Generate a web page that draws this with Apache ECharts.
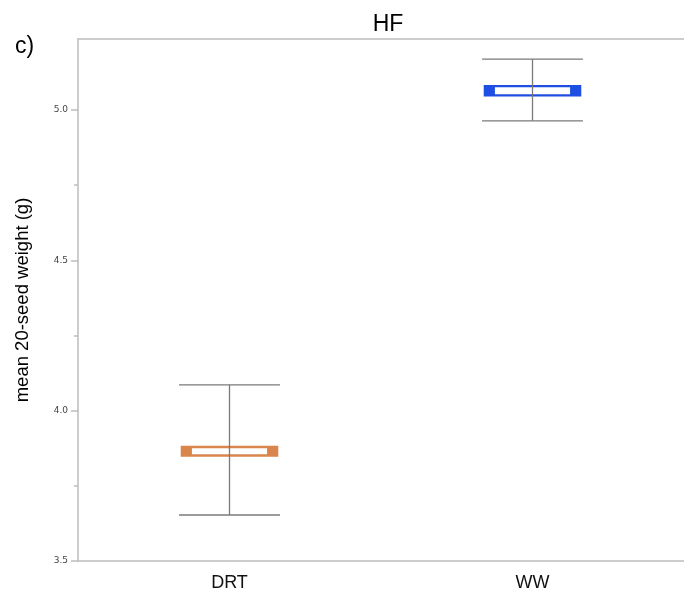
<!DOCTYPE html>
<html><head><meta charset="utf-8">
<script src="https://cdn.jsdelivr.net/npm/echarts@6/dist/echarts.min.js"></script>
<style>html,body{margin:0;padding:0;background:#fff}#c{width:684px;height:593px}</style>
</head><body><div id="c"></div>
<script>
var categories = ['DRT', 'WW'];
var whiskerLow = [3.653, 4.964];
var whiskerHigh = [4.086, 5.169];
var boxLow = [3.847, 5.045];
var boxHigh = [3.883, 5.083];
var boxColors = ['#d9854b', '#1f4fe2'];
var yTicks = [3.5, 4.0, 4.5, 5.0];
var yMinorTicks = [3.75, 4.25, 4.75];

var data = categories.map(function (c, i) {
  return [i, whiskerLow[i], whiskerHigh[i], boxLow[i], boxHigh[i]];
});

var axisGray = { color: '#bdbdbd', width: 1.5 };
var chart = echarts.init(document.getElementById('c'));
chart.setOption({
  animation: false,
  title: [
    { text: 'HF', left: 383, top: 8, textAlign: 'center',
      textStyle: { fontFamily: 'Liberation Sans', fontSize: 23, fontWeight: 'normal', color: '#000' } },
    { text: 'c)', left: 10, top: 30,
      textStyle: { fontFamily: 'Liberation Sans', fontSize: 23, fontWeight: 'normal', color: '#000' } }
  ],
  grid: { left: 78, top: 39, width: 608, height: 522 },
  xAxis: [{
    type: 'category', data: categories,
    axisLine: { lineStyle: axisGray },
    axisTick: { show: false },
    axisLabel: { fontFamily: 'Liberation Sans', fontSize: 18, color: '#111', margin: 13 }
  }, {
    type: 'category', data: categories, position: 'top',
    axisLine: { show: true, lineStyle: axisGray },
    axisTick: { show: false },
    axisLabel: { show: false }
  }],
  yAxis: [{
    type: 'value', min: 3.5, max: 5.236, interval: 0.5,
    name: 'mean 20-seed weight (g)', nameLocation: 'middle', nameGap: 46,
    nameTextStyle: { fontFamily: 'Liberation Sans', fontSize: 18.5, color: '#000' },
    axisLine: { show: true, lineStyle: axisGray },
    axisTick: { show: true, length: 7, customValues: yTicks, lineStyle: axisGray },
    axisLabel: { customValues: yTicks, fontFamily: 'DejaVu Sans', fontSize: 9, color: '#444', margin: 10,
      formatter: function (v) { return v.toFixed(1); } },
    splitLine: { show: false }
  }, {
    type: 'value', min: 3.5, max: 5.236, position: 'left',
    axisLine: { show: false },
    axisTick: { show: true, length: 4, customValues: yMinorTicks, lineStyle: axisGray },
    axisLabel: { show: false },
    splitLine: { show: false }
  }],
  series: [{
    type: 'custom',
    data: data,
    encode: { x: 0, y: [1, 2, 3, 4] },
    renderItem: function (params, api) {
      var i = api.value(0);
      var bw = api.size([1, 0])[0];
      var lo = api.coord([i, api.value(1)]);
      var hi = api.coord([i, api.value(2)]);
      var bl = api.coord([i, api.value(3)]);
      var bh = api.coord([i, api.value(4)]);
      var cx = lo[0];
      var capW = bw * 0.333;
      var boxW = bw * 0.322;
      var innerW = bw * 0.248;
      var line = { stroke: '#7a7a7a', lineWidth: 1.3 };
      return {
        type: 'group',
        children: [
          { type: 'rect', shape: { x: cx - boxW / 2, y: bh[1], width: boxW, height: bl[1] - bh[1] },
            style: { fill: boxColors[i] } },
          { type: 'rect', shape: { x: cx - innerW / 2, y: bh[1] + 2.3, width: innerW, height: bl[1] - bh[1] - 4.6 },
            style: { fill: '#fff' } },
          { type: 'line', shape: { x1: cx, y1: lo[1], x2: cx, y2: hi[1] }, style: line },
          { type: 'line', shape: { x1: cx - capW / 2, y1: lo[1], x2: cx + capW / 2, y2: lo[1] }, style: line },
          { type: 'line', shape: { x1: cx - capW / 2, y1: hi[1], x2: cx + capW / 2, y2: hi[1] }, style: line }
        ]
      };
    }
  }]
});
</script></body></html>
